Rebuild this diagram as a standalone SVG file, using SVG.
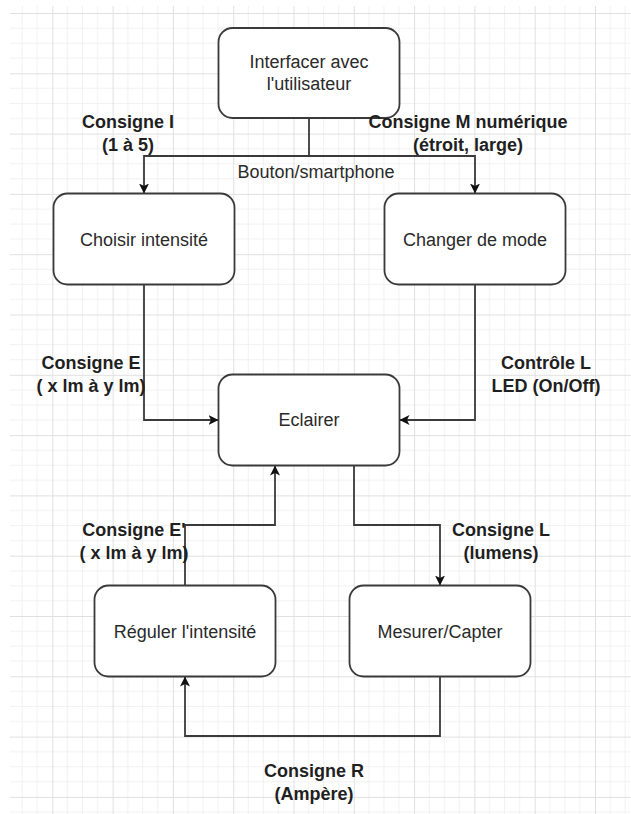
<svg xmlns="http://www.w3.org/2000/svg" width="631" height="814" viewBox="0 0 631 814">
<style>
.node rect{fill:#ffffff;stroke:#3a3a3a;stroke-width:1.8}
.node text{font-family:"Liberation Sans",Arial,sans-serif;font-size:18px;fill:#2a2a2a;text-anchor:middle}
.lbl{font-family:"Liberation Sans",Arial,sans-serif;font-size:18px;fill:#1f1f1f;text-anchor:middle;font-weight:bold}
.lbln{font-family:"Liberation Sans",Arial,sans-serif;font-size:18px;fill:#2a2a2a;text-anchor:middle}
#connectors path{fill:none;stroke:#3a3a3a;stroke-width:1.8}
</style>
<defs>
<pattern id="grid" x="52.3" y="13" width="60.3" height="60.3" patternUnits="userSpaceOnUse">
<path d="M15.075 0V60.3M30.15 0V60.3M45.225 0V60.3M0 15.075H60.3M0 30.15H60.3M0 45.225H60.3" stroke="#f1f1f1" stroke-width="1" fill="none"/>
<path d="M0.5 0V60.3M0 0.5H60.3" stroke="#e0e0e0" stroke-width="1" fill="none"/>
</pattern>
<marker id="arr" viewBox="0 0 10 10" refX="10" refY="5" markerWidth="10" markerHeight="10" markerUnits="userSpaceOnUse" orient="auto">
<path d="M0,0 L10,5 L0,10 L2.5,5 z" fill="#111"/>
</marker>
</defs>
<rect x="0" y="0" width="631" height="814" fill="#ffffff"/>
<rect x="10" y="6" width="621" height="808" fill="url(#grid)"/>

<g id="connectors">
<path d="M309 118 V156 H144 V193.5" marker-end="url(#arr)"/>
<path d="M309 156 H475 V193.5" marker-end="url(#arr)"/>
<path d="M144 284.5 V420 H218.5" marker-end="url(#arr)"/>
<path d="M475 284.5 V420 H399.5" marker-end="url(#arr)"/>
<path d="M354 465.5 V525 H440 V585.5" marker-end="url(#arr)"/>
<path d="M185 585.5 V525 H275 V465.5" marker-end="url(#arr)"/>
<path d="M440 676.5 V736 H185 V676.5" marker-end="url(#arr)"/>
</g>

<g id="node-interfacer" class="node">
<rect x="218.5" y="28" width="181" height="90" rx="14" ry="14"/>
<text x="309" y="68">Interfacer avec</text>
<text x="309" y="90">l'utilisateur</text>
</g>
<g id="node-choisir" class="node">
<rect x="53.5" y="193.5" width="181" height="91" rx="14" ry="14"/>
<text x="144" y="246">Choisir intensité</text>
</g>
<g id="node-changer" class="node">
<rect x="384.5" y="193.5" width="181" height="91" rx="14" ry="14"/>
<text x="475" y="246">Changer de mode</text>
</g>
<g id="node-eclairer" class="node">
<rect x="218.5" y="374.5" width="181" height="91" rx="14" ry="14"/>
<text x="309" y="426">Eclairer</text>
</g>
<g id="node-reguler" class="node">
<rect x="94.5" y="585.5" width="181" height="91" rx="14" ry="14"/>
<text x="185" y="638">Réguler l'intensité</text>
</g>
<g id="node-mesurer" class="node">
<rect x="349.5" y="585.5" width="181" height="91" rx="14" ry="14"/>
<text x="440" y="638">Mesurer/Capter</text>
</g>

<g id="labels">
<text class="lbl" x="128" y="128">Consigne I</text>
<text class="lbl" x="128" y="151">(1 à 5)</text>
<text class="lbl" x="468" y="128">Consigne M numérique</text>
<text class="lbl" x="468" y="151">(étroit, large)</text>
<text class="lbln" x="316" y="178">Bouton/smartphone</text>
<text class="lbl" x="91" y="369">Consigne E</text>
<text class="lbl" x="91" y="392">( x lm à y lm)</text>
<text class="lbl" x="546" y="369">Contrôle L</text>
<text class="lbl" x="546" y="392">LED (On/Off)</text>
<text class="lbl" x="134" y="536">Consigne E'</text>
<text class="lbl" x="134" y="559">( x lm à y lm)</text>
<text class="lbl" x="501" y="536">Consigne L</text>
<text class="lbl" x="501" y="559">(lumens)</text>
<text class="lbl" x="314" y="777">Consigne R</text>
<text class="lbl" x="314" y="800">(Ampère)</text>
</g>
</svg>
